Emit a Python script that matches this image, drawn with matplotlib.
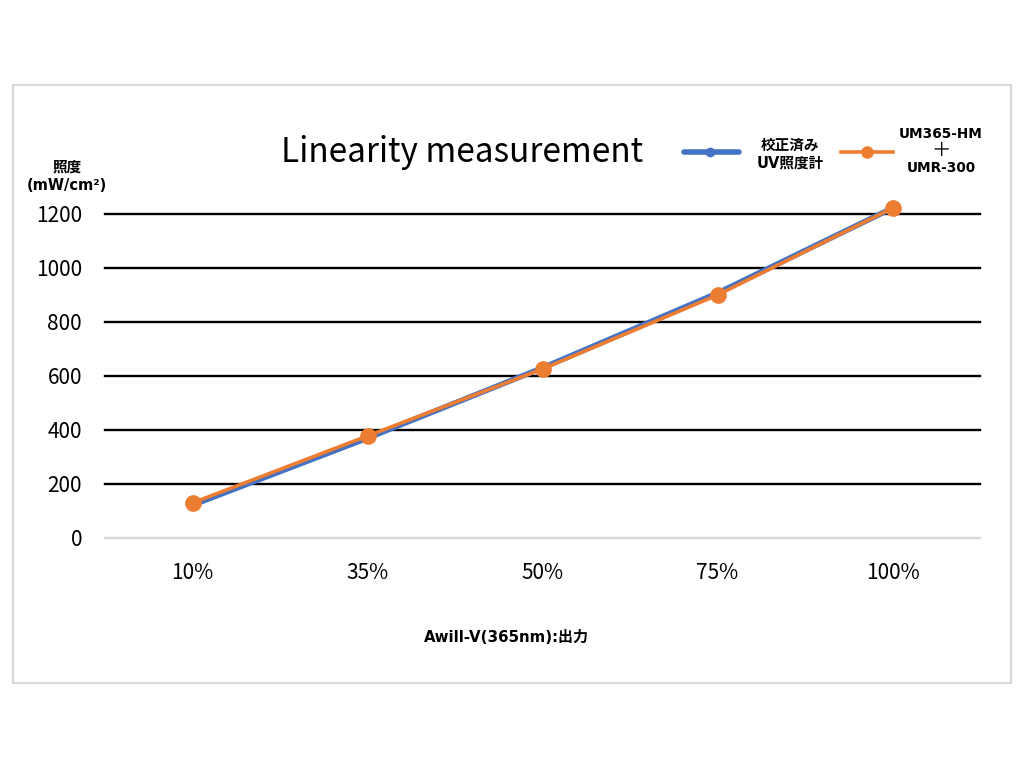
import matplotlib
matplotlib.use('Agg')
import matplotlib.pyplot as plt
from matplotlib.patches import Rectangle
from matplotlib.lines import Line2D

plt.rcParams['font.family'] = ['Noto Sans CJK JP', 'DejaVu Sans']
BOLD_FONT = ['DejaVu Sans', 'Noto Sans CJK JP']

categories = ['10%', '35%', '50%', '75%', '100%']
calibrated = [122, 370, 630, 907, 1222]     # 校正済み UV照度計
um365 = [130, 378, 626, 900, 1222]          # UM365-HM + UMR-300
y_ticks = [0, 200, 400, 600, 800, 1000, 1200]

BLUE = '#4472C4'
ORANGE = '#ED7D31'

fig = plt.figure(figsize=(10.24, 7.68), dpi=100, facecolor='white')

# outer chart frame
fig.patches.append(Rectangle((13 / 1024, 1 - 683 / 768), 998 / 1024, 598 / 768,
                             transform=fig.transFigure, fill=False,
                             edgecolor='#d9d9d9', linewidth=1.5))

ax = fig.add_axes([105 / 1024, 1 - 538 / 768, 875 / 1024, 324 / 768])
x = list(range(len(categories)))

ax.plot(x, calibrated, color=BLUE, linewidth=4, marker='o', markersize=6,
        solid_capstyle='round', clip_on=False, zorder=3)
ax.plot(x, um365, color=ORANGE, linewidth=2.6, marker='o', markersize=11,
        solid_capstyle='round', clip_on=False, zorder=4)

ax.set_xlim(-0.5, len(categories) - 0.5)
ax.set_ylim(0, 1200)
ax.set_yticks(y_ticks)
ax.set_yticklabels([str(v) for v in y_ticks], fontsize=15)
ax.set_xticks(x)
ax.set_xticklabels(categories, fontsize=15)
ax.tick_params(length=0)
ax.tick_params(axis='x', pad=17)
ax.tick_params(axis='y', pad=16.5)

for v in y_ticks[1:]:
    ax.axhline(v, color='black', linewidth=1.7, zorder=1, clip_on=False)
ax.axhline(0, color='#d9d9d9', linewidth=1.7, zorder=1, clip_on=False)
for s in ax.spines.values():
    s.set_visible(False)

fig.text(462 / 1024, 1 - 152 / 768, 'Linearity measurement', fontsize=24,
         ha='center', va='center')
fig.text(67 / 1024, 1 - 176 / 768, '照度\n(mW/cm²)', fontsize=10.5,
         fontweight='bold', family=BOLD_FONT, ha='center', va='center',
         linespacing=1.3)
fig.text(506 / 1024, 1 - 637 / 768, 'Awill-V(365nm):出力', fontsize=10.8,
         fontweight='bold', family=BOLD_FONT, ha='center', va='center')

# legend
fig.lines.append(Line2D([684 / 1024, 739 / 1024], [1 - 152 / 768] * 2,
                        transform=fig.transFigure, color=BLUE, linewidth=4,
                        solid_capstyle='round'))
fig.lines.append(Line2D([710 / 1024], [1 - 152 / 768], transform=fig.transFigure,
                        color=BLUE, marker='o', markersize=6))
fig.text(790 / 1024, 1 - 154 / 768, '校正済み\nUV照度計', fontsize=10.5,
         fontweight='bold', family=BOLD_FONT, ha='center', va='center',
         linespacing=1.2)
fig.lines.append(Line2D([841 / 1024, 893 / 1024], [1 - 152 / 768] * 2,
                        transform=fig.transFigure, color=ORANGE, linewidth=2.6))
fig.lines.append(Line2D([867 / 1024], [1 - 152 / 768], transform=fig.transFigure,
                        color=ORANGE, marker='o', markersize=8))
fig.text(941 / 1024, 1 - 134 / 768, 'UM365-HM', fontsize=9.8,
         fontweight='bold', family=BOLD_FONT, ha='center', va='center')
fig.text(941 / 1024, 1 - 151 / 768, '＋', fontsize=14,
         ha='center', va='center')
fig.text(941 / 1024, 1 - 168 / 768, 'UMR-300', fontsize=9.8,
         fontweight='bold', family=BOLD_FONT, ha='center', va='center')

fig.savefig('out.png', dpi=100, facecolor='white')
